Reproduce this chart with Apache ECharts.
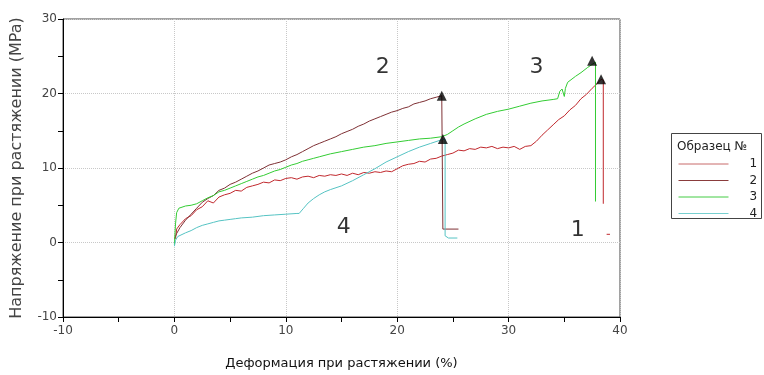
<!DOCTYPE html>
<html>
<head>
<meta charset="utf-8">
<script src="https://cdn.jsdelivr.net/npm/echarts@6/dist/echarts.min.js"></script>
<style>
  html, body { margin: 0; padding: 0; background: #fff; }
  #main { width: 764px; height: 375px; }
</style>
</head>
<body>
<div id="main"></div>
<script>
// образцы 1..4, деформация (%) / напряжение (MPa)
var sample1 = [[0.1,0.5],[0.2,1.8],[0.5,2.4],[1,3.2],[1.5,3.6],[2,4.4],[2.5,4.8],[3,5.6],[3.5,5.3],[4,6.1],
  [4.5,6.4],[5,6.6],[5.5,7.0],[6,6.9],[6.5,7.4],[7,7.6],[7.5,7.8],[8,8.1],[8.5,8.0],[9,8.4],[9.5,8.3],
  [10,8.6],[10.5,8.7],[11,8.5],[11.5,8.8],[12,8.9],[12.5,8.7],[13,9.0],[13.5,8.9],[14,9.1],[14.5,9.0],
  [15,9.2],[15.5,9.0],[16,9.3],[16.5,9.1],[17,9.4],[17.5,9.3],[18,9.5],[18.5,9.4],[19,9.6],[19.5,9.5],
  [20,9.9],[20.5,10.3],[21,10.5],[21.5,10.6],[22,10.9],[22.5,10.8],[23,11.2],[23.5,11.3],[24,11.6],
  [24.5,11.8],[25,12.0],[25.5,12.4],[26,12.3],[26.5,12.6],[27,12.5],[27.5,12.8],[28,12.7],[28.5,12.9],
  [29,12.6],[29.5,12.8],[30,12.7],[30.5,12.9],[31,12.5],[31.5,12.9],[32,13.0],[32.5,13.6],[33,14.4],
  [33.5,15.1],[34,15.8],[34.5,16.5],[35,17.0],[35.5,17.8],[36,18.4],[36.5,19.3],[37,19.9],[37.5,20.7],
  [38,21.4],[38.3,21.9],[38.5,21.8],[38.5,5.2],[38.6,'-'],[38.8,1.1],[39.1,1.1]];
var sample2 = [[0,0.5],[0.2,1.2],[0.5,2.0],[1,3.0],[1.5,3.8],[2,4.6],[2.5,5.4],[3,5.9],[3.5,6.3],[4,7.0],
  [4.5,7.3],[5,7.8],[5.5,8.1],[6,8.5],[6.5,8.9],[7,9.3],[7.5,9.6],[8,10.0],[8.5,10.4],[9,10.6],[9.5,10.8],
  [10,11.1],[10.5,11.5],[11,11.8],[11.5,12.2],[12,12.6],[12.5,13.0],[13,13.3],[13.5,13.6],[14,13.9],
  [14.5,14.2],[15,14.6],[15.5,14.9],[16,15.2],[16.5,15.6],[17,15.9],[17.5,16.3],[18,16.6],[18.5,16.9],
  [19,17.2],[19.5,17.5],[20,17.7],[20.5,18.0],[21,18.2],[21.5,18.6],[22,18.8],[22.5,19.0],[23,19.3],
  [23.5,19.5],[24,19.7],[24.1,1.8],[25.5,1.8]];
var sample3 = [[0,-0.3],[0.1,2.5],[0.2,4.0],[0.4,4.6],[1,4.9],[1.5,5.0],[2,5.2],[2.5,5.6],[3,6.0],[3.5,6.3],
  [4,6.8],[4.5,7.0],[5,7.3],[5.5,7.6],[6,7.9],[6.5,8.2],[7,8.5],[7.5,8.8],[8,9.0],[8.5,9.3],[9,9.6],
  [9.5,9.8],[10,10.1],[10.5,10.4],[11,10.6],[11.5,10.9],[12,11.1],[12.5,11.3],[13,11.5],[14,11.9],
  [15,12.2],[16,12.5],[17,12.8],[18,13.0],[19,13.3],[20,13.5],[21,13.7],[22,13.9],[23,14.0],[24,14.2],
  [24.5,14.5],[25,15.0],[25.5,15.5],[26,15.9],[27,16.6],[28,17.2],[29,17.6],[30,17.9],[31,18.3],
  [32,18.7],[33,19.0],[34,19.2],[34.4,19.3],[34.6,20.3],[34.8,20.6],[35,19.6],[35.1,20.7],[35.3,21.5],
  [36,22.3],[36.5,22.8],[37.1,23.5],[37.5,23.9],[37.8,24.2],[37.8,5.5]];
var sample4 = [[0,-0.5],[0.1,0.3],[0.3,0.8],[1,1.3],[1.5,1.6],[2,2.0],[2.5,2.3],[3,2.5],[3.5,2.7],[4,2.9],
  [4.5,3.0],[5,3.1],[5.5,3.2],[6,3.3],[7,3.4],[8,3.6],[9,3.7],[10,3.8],[11,3.9],[11.2,3.9],[11.6,4.6],
  [12,5.3],[12.5,5.9],[13,6.4],[13.5,6.8],[14,7.1],[15,7.6],[16,8.3],[17,9.1],[18,9.9],[19,10.8],
  [20,11.5],[21,12.2],[22,12.8],[23,13.3],[24,13.8],[24.3,13.9],[24.3,0.9],[24.6,0.6],[25.4,0.6]];

// точки разрыва
var breakPoints = [[24.0,19.7],[24.1,13.9],[37.5,24.4],[38.3,21.9]];
// подписи номеров кривых
var curveLabels = [['2',18.7,23.5],['3',32.5,23.5],['4',15.2,2.1],['1',36.2,1.6]];

var sampleNames = ['1','2','3','4'];
var lineColors = ['#c0282d','#7e3034','#33cc33','#55c3c3'];
var legendColors = ['#c86a6a','#8a3c3c','#44cc44','#77d0d0'];

var chart = echarts.init(document.getElementById('main'));

var series = [sample1, sample2, sample3, sample4].map(function (d, i) {
  return {
    name: sampleNames[i],
    type: 'line',
    data: d,
    symbol: 'none',
    connectNulls: false,
    lineStyle: { width: 1, color: lineColors[i] },
    itemStyle: { color: lineColors[i] },
    z: 2
  };
});

series.push({
  type: 'scatter',
  data: breakPoints,
  symbol: 'triangle',
  symbolSize: 10,
  itemStyle: { color: '#000' },
  z: 5
});

series.push({
  type: 'scatter',
  data: curveLabels.map(function (c) { return { value: [c[1], c[2]], name: c[0] }; }),
  symbolSize: 0,
  label: {
    show: true,
    position: 'inside',
    formatter: '{b}',
    fontSize: 22,
    fontFamily: 'DejaVu Sans',
    color: '#000'
  },
  z: 6
});

chart.setOption({
  animation: false,
  textStyle: { fontFamily: 'DejaVu Sans' },
  grid: {
    left: 63, right: 144, top: 19, bottom: 57,
    show: true, borderColor: '#444', borderWidth: 1
  },
  title: {
    text: 'Образец №',
    left: 672, top: 136,
    textStyle: { fontSize: 12, fontWeight: 'normal', color: '#222', fontFamily: 'DejaVu Sans' }
  },
  legend: {
    orient: 'vertical',
    left: 673, top: 153,
    itemWidth: 50, itemHeight: 14, itemGap: 4.5,
    data: sampleNames.map(function (n, i) {
      return {
        name: n,
        lineStyle: { color: legendColors[i], width: 1 },
        itemStyle: { opacity: 0 }
      };
    }),
    textStyle: { fontSize: 12, color: '#222', padding: [0, 0, 0, 16] }
  },
  graphic: [{
    type: 'rect',
    shape: { x: 671.5, y: 133.5, width: 90, height: 85 },
    style: { fill: 'none', stroke: '#444', lineWidth: 1 }
  }],
  xAxis: {
    type: 'value',
    min: -10, max: 40, interval: 10,
    name: 'Деформация при растяжении (%)',
    nameLocation: 'middle',
    nameGap: 40,
    nameTextStyle: { fontSize: 13, color: '#111' },
    axisLine: { onZero: false, lineStyle: { color: '#000' } },
    axisTick: { length: 5, lineStyle: { color: '#000' } },
    minorTick: { show: true, splitNumber: 2, length: 5, lineStyle: { color: '#000' } },
    axisLabel: { fontSize: 12, color: '#444', margin: 8 },
    splitLine: { show: true, lineStyle: { color: '#c8c8c8', type: 'dotted' } }
  },
  yAxis: {
    type: 'value',
    min: -10, max: 30, interval: 10,
    name: 'Напряжение при растяжении (MPa)',
    nameLocation: 'middle',
    nameGap: 38,
    nameTextStyle: { fontSize: 16, color: '#444' },
    axisLine: { onZero: false, lineStyle: { color: '#000' } },
    axisTick: { length: 5, lineStyle: { color: '#000' } },
    minorTick: { show: true, splitNumber: 2, length: 5, lineStyle: { color: '#000' } },
    axisLabel: { fontSize: 12, color: '#444', margin: 6 },
    splitLine: { show: true, lineStyle: { color: '#c8c8c8', type: 'dotted' } }
  },
  series: series
});
</script>
</body>
</html>
